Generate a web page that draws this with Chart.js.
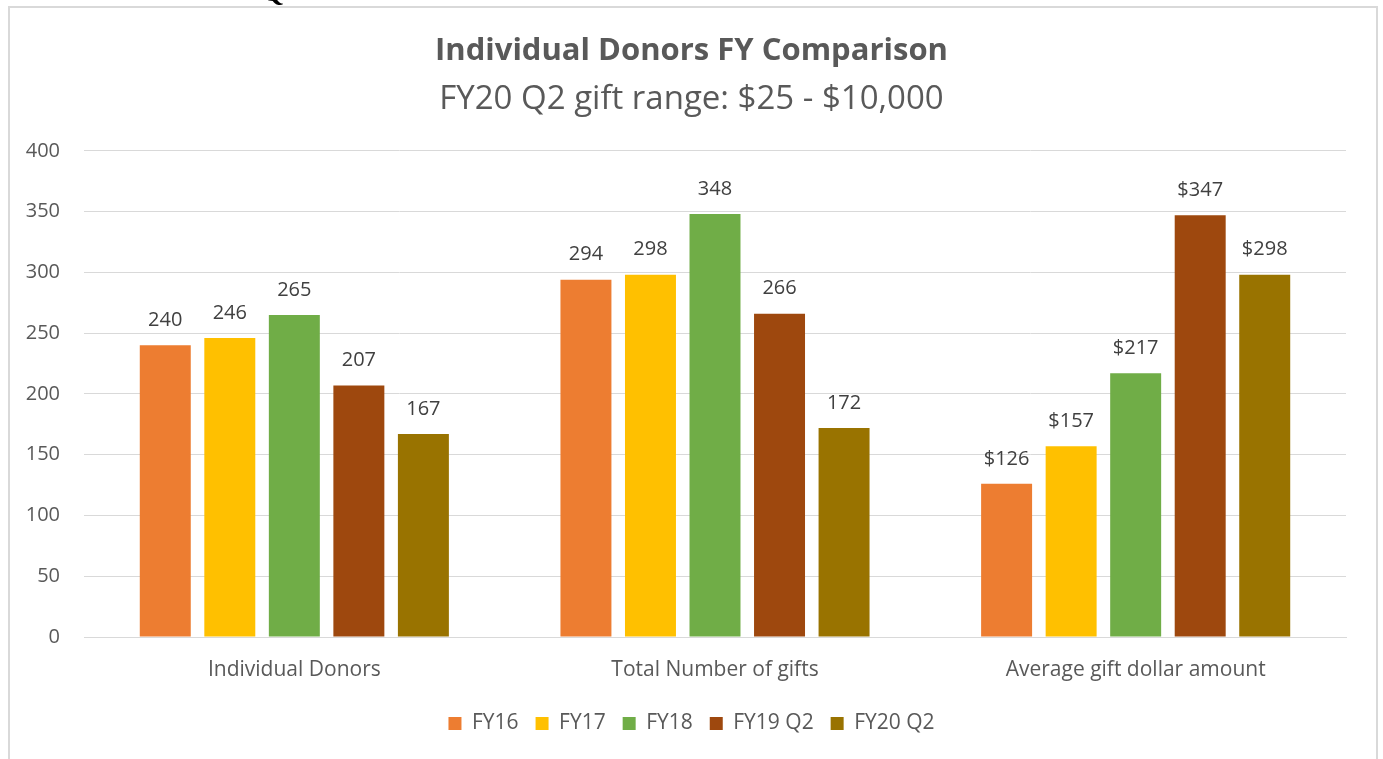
<!DOCTYPE html>
<html>
<head>
<meta charset="utf-8">
<script src="https://cdn.jsdelivr.net/npm/chart.js@4.4.0/dist/chart.umd.min.js"></script>
<style>
    body { margin: 0; background: #fff; }
    #wrap { position: relative; width: 1383px; height: 759px; overflow: hidden; }
    #frame { position: absolute; left: 8px; top: 6px; width: 1366px; height: 800px;
             border: 2px solid #d9d9d9; border-bottom: none; pointer-events: none; }
    #cut { position: absolute; left: 262px; top: -24px; font: bold 28px "Liberation Serif", serif; color: #000; }
</style>
</head>
<body>
<div id="wrap">
    <canvas id="donorChart" width="1383" height="759"></canvas>
    <div id="frame"></div>
    <span id="cut">Q</span>
</div>
<script>
    // chart data
    const categories = ['Individual Donors', 'Total Number of gifts', 'Average gift dollar amount'];
    const seriesNames = ['FY16', 'FY17', 'FY18', 'FY19 Q2', 'FY20 Q2'];
    const seriesColors = ['#ED7D31', '#FFC000', '#70AD47', '#9E480E', '#997300'];
    const fy16 = [240, 294, 126];
    const fy17 = [246, 298, 157];
    const fy18 = [265, 348, 217];
    const fy19q2 = [207, 266, 347];
    const fy20q2 = [167, 172, 298];
    const labelPrefix = ['', '', '$'];
    const yTicks = [0, 50, 100, 150, 200, 250, 300, 350, 400];

    const textColor = '#595959';
    const fontFamily = '"Open Sans", sans-serif';

    //data labels above the bars
    const barLabels = {
        id: 'barLabels',
        afterDatasetsDraw(chart) {
            const ctx = chart.ctx;
            ctx.save();
            ctx.font = '20px ' + fontFamily;
            ctx.fillStyle = '#404040';
            ctx.textAlign = 'center';
            ctx.textBaseline = 'middle';
            chart.data.datasets.forEach(function (ds, i) {
                chart.getDatasetMeta(i).data.forEach(function (bar, j) {
                    ctx.fillText(labelPrefix[j] + ds.data[j], bar.x, bar.y - 25);
                });
            });
            ctx.restore();
        }
    };

    const allSeries = [fy16, fy17, fy18, fy19q2, fy20q2];

    let donorChart = new Chart(document.getElementById('donorChart'), {
        type: 'bar',
        data: {
            labels: categories,
            datasets: allSeries.map(function (vals, i) {
                return {
                    label: seriesNames[i],
                    data: vals,
                    backgroundColor: seriesColors[i],
                    categoryPercentage: 0.767,
                    barPercentage: 0.79
                };
            })
        },
        options: {
            responsive: false,
            animation: false,
            layout: { padding: { left: 0, right: 0, top: 0, bottom: 15 } },
            scales: {
                x: {
                    afterFit: function (scale) { scale.height = 59; },
                    grid: { display: false },
                    border: { color: '#d9d9d9', width: 1 },
                    ticks: { color: textColor, font: { size: 21, family: fontFamily }, padding: 12 }
                },
                y: {
                    min: 0,
                    max: 400,
                    afterBuildTicks: function (scale) {
                        scale.ticks = yTicks.map(function (v) { return { value: v }; });
                    },
                    afterFit: function (scale) { scale.width = 84; },
                    grid: { color: '#d9d9d9', drawTicks: false },
                    border: { display: false },
                    ticks: { color: textColor, font: { size: 20, family: fontFamily }, padding: 24 }
                },
                // empty right-hand margin so title and legend centre on the page
                yRight: {
                    type: 'linear',
                    position: 'right',
                    afterFit: function (scale) { scale.width = 37; },
                    grid: { display: false },
                    border: { display: false },
                    ticks: { display: false }
                }
            },
            plugins: {
                title: {
                    display: true,
                    text: 'Individual Donors FY Comparison',
                    color: textColor,
                    font: { size: 31, weight: 'bold', family: fontFamily },
                    padding: { top: 33, bottom: 10 }
                },
                subtitle: {
                    display: true,
                    text: 'FY20 Q2 gift range: $25 - $10,000',
                    color: textColor,
                    font: { size: 33, family: fontFamily },
                    padding: { top: 0, bottom: 31 }
                },
                legend: {
                    position: 'bottom',
                    labels: {
                        color: textColor,
                        font: { size: 21, family: fontFamily },
                        boxWidth: 13,
                        boxHeight: 13,
                        padding: 17
                    }
                },
                tooltip: { enabled: false }
            }
        },
        plugins: [barLabels]
    });
</script>
</body>
</html>
